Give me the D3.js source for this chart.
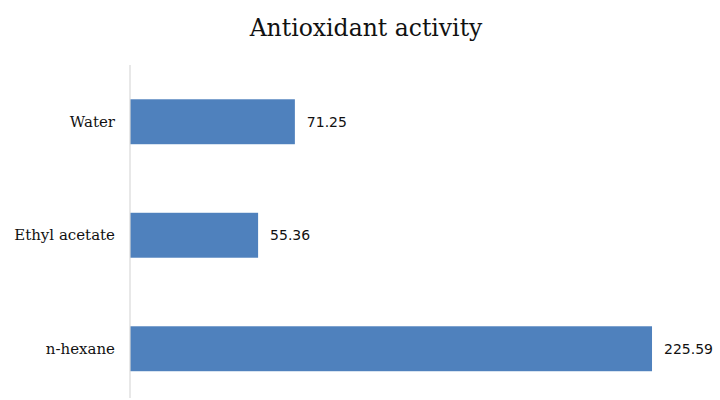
<!DOCTYPE html>
<html>
<head>
<meta charset="utf-8">
<script src="https://cdn.jsdelivr.net/npm/d3@7"></script>
<style>
  body { margin: 0; background: #fff; }
</style>
</head>
<body>
<svg id="chart" width="720" height="400"></svg>
<script>
// data
var categories = ["Water", "Ethyl acetate", "n-hexane"];
var values = [71.25, 55.36, 225.59];
var valueLabels = ["71.25", "55.36", "225.59"];
var chartTitle = "Antioxidant activity";

var svg = d3.select("#chart");

var x = d3.scaleLinear().domain([0, 250]).range([130, 708.5]);
var y = d3.scaleBand().domain(categories).range([65, 405.5])
    .paddingInner(0.604).paddingOuter(0.302);

// title
svg.append("text")
    .attr("x", 366).attr("y", 36)
    .attr("text-anchor", "middle")
    .style("font-family", "'DejaVu Serif', serif")
    .style("font-size", "23.5px")
    .style("fill", "#111")
    .text(chartTitle);

// bars
svg.selectAll(".bar")
    .data(categories).enter()
    .append("rect")
    .attr("class", "bar")
    .attr("x", x(0))
    .attr("y", function(d) { return y(d); })
    .attr("width", function(d, i) { return x(values[i]) - x(0); })
    .attr("height", y.bandwidth())
    .attr("fill", "#4f81bd");

// vertical axis line
svg.append("line")
    .attr("x1", x(0)).attr("x2", x(0))
    .attr("y1", 65).attr("y2", 398)
    .attr("stroke", "#d9d9d9")
    .attr("stroke-width", 1.2);

// category labels
var yAxis = d3.axisLeft(y).tickSize(0).tickPadding(15);
var g = svg.append("g").attr("transform", "translate(" + x(0) + ",0)").call(yAxis);
g.select(".domain").remove();
g.selectAll("text")
    .style("font-family", "'DejaVu Serif', serif")
    .style("font-size", "15px")
    .style("fill", "#111");

// value labels
svg.selectAll(".val")
    .data(categories).enter()
    .append("text")
    .attr("class", "val")
    .attr("x", function(d, i) { return x(values[i]) + 12; })
    .attr("y", function(d) { return y(d) + y.bandwidth() / 2; })
    .attr("dy", "0.35em")
    .style("font-family", "'DejaVu Sans', sans-serif")
    .style("font-size", "14px")
    .style("fill", "#111")
    .text(function(d, i) { return valueLabels[i]; });
</script>
</body>
</html>
